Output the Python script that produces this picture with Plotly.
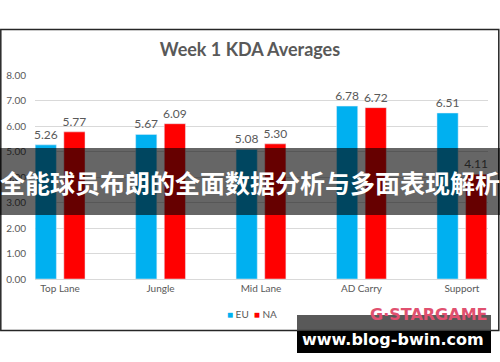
import plotly.graph_objects as go

categories = ["Top Lane", "Jungle", "Mid Lane", "AD Carry", "Support"]
eu_values = [5.26, 5.67, 5.08, 6.78, 6.51]
na_values = [5.77, 6.09, 5.30, 6.72, 4.11]
y_ticks = [0, 1, 2, 3, 4, 5, 6, 7, 8]
series_names = ["EU", "NA"]
series_colors = ["#00B0F0", "#FF0000"]

title_text = "Week 1 KDA Averages"
banner_text = "全能球员布朗的全面数据分析与多面表现解析"
watermark_text = "www.blog-bwin.com"
logo_text = "G·STARGAME"

W, H = 500, 362
L, R, T, B = 35, 12, 75, 83
PW = W - L - R
PH = H - T - B


def px(x):
    return (x - L) / PW


def py(y):
    return (H - B - y) / PH


gray = "#595959"
lab_font = dict(family="Lato, Carlito, sans-serif", size=12, color=gray)

fig = go.Figure()
for name, vals, col in zip(series_names, [eu_values, na_values], series_colors):
    fig.add_trace(go.Bar(
        name=name, x=categories, y=vals, marker_color=col,
        text=[f"{v:.2f}" for v in vals], textposition="outside",
        textfont=lab_font, cliponaxis=False, constraintext="none",
        showlegend=False,
    ))

fig.update_layout(
    width=W, height=H,
    margin=dict(l=L, r=R, t=T, b=B, pad=0, autoexpand=False),
    paper_bgcolor="white", plot_bgcolor="white",
    barmode="group", bargap=0.43, bargroupgap=0.26,
    showlegend=False,
    title=dict(text=f"<b>{title_text}</b>", x=px(250), xref="paper", xanchor="center",
               y=1 - 50 / H, yanchor="middle",
               font=dict(family="Lato, Carlito, sans-serif", size=18, color=gray)),
    xaxis=dict(range=[-0.25, 4.26], showgrid=False, ticks="", automargin=False,
               tickfont=dict(family="Lato, sans-serif", size=10, color=gray),
               showline=True, linecolor="#d9d9d9", linewidth=1, fixedrange=True),
    yaxis=dict(range=[0, 8], tickvals=y_ticks, tickformat=".2f", showgrid=True,
               gridcolor="#d9d9d9", gridwidth=1, zeroline=False, showline=False,
               ticklabelstandoff=8, automargin=False,
               tickfont=dict(family="Lato, sans-serif", size=10, color=gray)),
)

# legend drawn as text
legend_html = "  ".join(
    f"<span style='color:{c}'>■</span> {n}" for n, c in zip(series_names, series_colors)
)
fig.add_annotation(text=legend_html, xref="paper", yref="paper",
                   x=px(252), y=py(314), xanchor="center", yanchor="middle", showarrow=False,
                   font=dict(family="Lato, sans-serif", size=10, color=gray))

# chart border
fig.add_shape(type="rect", xref="paper", yref="paper",
              x0=px(0.8), x1=px(498.8), y0=py(330.5), y1=py(29.5),
              line=dict(color="#262626", width=1.5), fillcolor="rgba(0,0,0,0)", layer="above")
# banner
fig.add_shape(type="rect", xref="paper", yref="paper",
              x0=px(0), x1=px(500), y0=py(215), y1=py(148),
              line=dict(width=0), fillcolor="rgba(0,0,0,0.6)", layer="above")

fig.add_annotation(text=f"<b>{logo_text}</b>", xref="paper", yref="paper",
                   x=px(428), y=py(314), xanchor="center", yanchor="middle", showarrow=False,
                   font=dict(family="DejaVu Sans, sans-serif", size=16, color="#e0506f"))

# watermark boxes
fig.add_shape(type="rect", xref="paper", yref="paper",
              x0=px(297), x1=px(491), y0=py(331), y1=py(315),
              line=dict(width=0), fillcolor="rgba(60,60,60,0.85)", layer="above")
fig.add_shape(type="rect", xref="paper", yref="paper",
              x0=px(297), x1=px(491), y0=py(353), y1=py(331),
              line=dict(width=0), fillcolor="black", layer="above")

fig.add_annotation(text=f"<b>{banner_text}</b>", xref="paper", yref="paper",
                   x=px(250), y=py(182), xanchor="center", yanchor="middle", showarrow=False,
                   font=dict(family="Noto Sans CJK SC, sans-serif", size=25, color="white"))
fig.add_annotation(text=f"<b>{watermark_text}</b>", xref="paper", yref="paper",
                   x=px(393), y=py(339), xanchor="center", yanchor="middle", showarrow=False,
                   font=dict(family="DejaVu Sans, sans-serif", size=16, color="white"))

fig.write_html("out.html", config={"displayModeBar": False},
               post_script="document.body.style.margin='0';")
